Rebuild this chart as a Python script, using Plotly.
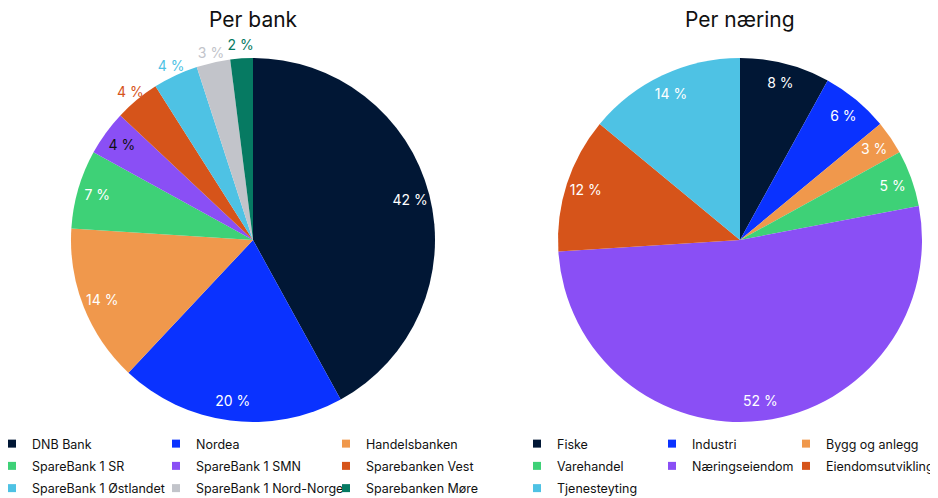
import plotly.graph_objects as go

banks = ["DNB Bank", "Nordea", "Handelsbanken", "SpareBank 1 SR", "SpareBank 1 SMN",
         "Sparebanken Vest", "SpareBank 1 Østlandet", "SpareBank 1 Nord-Norge", "Sparebanken Møre"]
bank_share = [42, 20, 14, 7, 4, 4, 4, 3, 2]
bank_outside = [False, False, False, False, False, True, True, True, True]

sectors = ["Fiske", "Industri", "Bygg og anlegg", "Varehandel", "Næringseiendom",
           "Eiendomsutvikling", "Tjenesteyting"]
sector_share = [8, 6, 3, 5, 52, 12, 14]

bank_colors = ["#011735", "#0a32ff", "#f0984c", "#3ed177", "#8a4ff5",
               "#d6541a", "#4ec2e4", "#c2c4ca", "#067a62"]
sector_colors = ["#011735", "#0a32ff", "#f0984c", "#3ed177", "#8a4ff5", "#d6541a", "#4ec2e4"]

FONT = "Inter"
OFF = 8                        # page offset of the plot div (body margin)
FW, FH = 938 - OFF, 498 - OFF  # figure size
CLEAR = "rgba(0,0,0,0)"
INK = "#111111"


def px_x(p):  # page pixel -> paper fraction
    return (p - OFF) / FW


def px_y(p):
    return 1 - (p - OFF) / FH


def dom(cx, cy, r):
    return dict(x=[px_x(cx - r), px_x(cx + r)], y=[px_y(cy + r), px_y(cy - r)])


def label_ring(values, texts, colors, win=None):
    """Transparent ring whose small label pieces are centred on each slice's bisector."""
    total = float(sum(values))
    vals, txts, cols, labs = [], [], [], []
    pos, start = 0.0, 0.0
    for k, (v, t, c) in enumerate(zip(values, texts, colors)):
        mid = start + v / 2
        start += v
        if not t:
            continue
        w = min(v, 3) if win is None else win
        a = mid - w / 2
        if a - pos > 1e-9:
            vals.append(a - pos); txts.append(""); cols.append(c); labs.append(f"f{k}")
        vals.append(w); txts.append(t); cols.append(c); labs.append(f"t{k}")
        pos = mid + w / 2
    if total - pos > 1e-9:
        vals.append(total - pos); txts.append(""); cols.append(INK); labs.append("end")
    return labs, vals, txts, cols


def ring_trace(values, texts, colors, center, radius, hole, win=None):
    labs, vals, txts, cols = label_ring(values, texts, colors, win)
    return go.Pie(labels=labs, values=vals, sort=False, direction="clockwise", hole=hole,
                  marker=dict(colors=[CLEAR] * len(vals), line=dict(width=0)),
                  text=txts, textinfo="text", textposition="inside",
                  insidetextorientation="horizontal",
                  textfont=dict(color=cols, size=14, family=FONT),
                  domain=dom(*center, radius), showlegend=False, hoverinfo="skip")


fig = go.Figure()
L_C, R_C, RAD = (253, 240), (740, 240), 182

# --- Per bank ---
fig.add_trace(go.Pie(labels=banks, values=bank_share, sort=False, direction="clockwise",
                     marker=dict(colors=bank_colors, line=dict(width=0)), textinfo="none",
                     domain=dom(*L_C, RAD), showlegend=False, hoverinfo="label+value"))
in_text = [("" if o else f"{v} %") for v, o in zip(bank_share, bank_outside)]
in_col = ["white", "white", "white", "white", INK, "white", "white", "white", "white"]
fig.add_trace(ring_trace(bank_share, in_text, in_col, L_C, RAD, 0.76, win=3.9))
out_text = [(f"{v} %" if o else "") for v, o in zip(bank_share, bank_outside)]
fig.add_trace(ring_trace(bank_share, out_text, bank_colors, L_C, 208, 0.85))

# --- Per næring ---
fig.add_trace(go.Pie(labels=sectors, values=sector_share, sort=False, direction="clockwise",
                     marker=dict(colors=sector_colors, line=dict(width=0)), textinfo="none",
                     domain=dom(*R_C, RAD), showlegend=False, hoverinfo="label+value"))
fig.add_trace(ring_trace(sector_share, [f"{v} %" for v in sector_share],
                         ["white"] * len(sectors), R_C, RAD, 0.76, win=3.9))

# --- legends: one legend per column, three columns per chart ---
col_left = [-8, 156, 326]      # page x of legend boxes
col_right = [517, 652, 786]
legend_layout = {}
li = 0
for names, cols, xs in [(banks, bank_colors, col_left), (sectors, sector_colors, col_right)]:
    for c in range(3):
        li += 1
        lname = "legend" if li == 1 else f"legend{li}"
        for i in range(c, len(names), 3):
            fig.add_trace(go.Scatter(x=[None], y=[None], mode="markers", name=names[i],
                                     marker=dict(symbol="square", size=8, color=cols[i]),
                                     legend=lname, legendgroup=names[i], showlegend=True,
                                     hoverinfo="skip"))
        legend_layout[lname] = dict(
            orientation="v", x=px_x(xs[c]), xanchor="left", y=px_y(429), yanchor="top",
            font=dict(size=12.5, family=FONT, color=INK), bgcolor=CLEAR,
            traceorder="grouped", tracegroupgap=3, itemclick=False, itemdoubleclick=False,
        )

fig.update_layout(
    width=FW, height=FH,
    margin=dict(l=0, r=0, t=0, b=0, autoexpand=False),
    paper_bgcolor="white", plot_bgcolor="white",
    font=dict(family=FONT, color=INK),
    uniformtext=dict(minsize=14, mode="show"),
    xaxis=dict(visible=False), yaxis=dict(visible=False),
    annotations=[
        dict(text="Per bank", x=px_x(L_C[0]), y=px_y(20), xref="paper", yref="paper",
             xanchor="center", yanchor="middle", showarrow=False,
             font=dict(size=21, family=FONT, color=INK)),
        dict(text="Per næring", x=px_x(R_C[0]), y=px_y(20), xref="paper", yref="paper",
             xanchor="center", yanchor="middle", showarrow=False,
             font=dict(size=21, family=FONT, color=INK)),
    ],
    **legend_layout,
)

fig.write_html("out.html")
